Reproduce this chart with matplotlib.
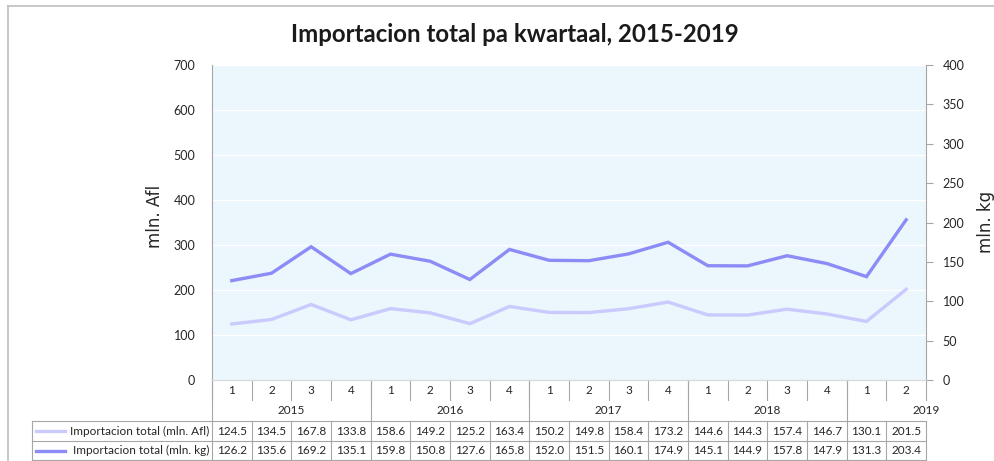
import matplotlib.pyplot as plt
from matplotlib.lines import Line2D
from matplotlib.transforms import blended_transform_factory

plt.rcParams['font.family'] = ['Lato', 'DejaVu Sans']

# DATA
years = ['2015', '2016', '2017', '2018', '2019']
quarters = [1, 2, 3, 4, 1, 2, 3, 4, 1, 2, 3, 4, 1, 2, 3, 4, 1, 2]
afl = [124.5, 134.5, 167.8, 133.8, 158.6, 149.2, 125.2, 163.4, 150.2, 149.8,
       158.4, 173.2, 144.6, 144.3, 157.4, 146.7, 130.1, 201.5]
kg = [126.2, 135.6, 169.2, 135.1, 159.8, 150.8, 127.6, 165.8, 152.0, 151.5,
      160.1, 174.9, 145.1, 144.9, 157.8, 147.9, 131.3, 203.4]
label_afl = 'Importacion total (mln. Afl)'
label_kg = 'Importacion total (mln. kg)'

C_AFL = '#CACAFD'
C_KG = '#8C8CF6'
GRAY = '#A6A6A6'
TXT = '#262626'

W, H = 994, 461
fig = plt.figure(figsize=(W / 100, H / 100), dpi=100)

# outer chart border
fig.add_artist(Line2D([8 / W, 1], [1 - 6 / H, 1 - 6 / H], color='#BFBFBF', lw=1.2))
fig.add_artist(Line2D([8 / W, 8 / W], [0, 1 - 6 / H], color='#BFBFBF', lw=1.2))

# PLOT AREA
x0, x1, y0, y1 = 212, 926, 65, 380
ax = fig.add_axes([x0 / W, (H - y1) / H, (x1 - x0) / W, (y1 - y0) / H])
ax2 = ax.twinx()

xs = list(range(len(afl)))
ax.set_facecolor('#EBF6FD')
ax.plot(xs, afl, color=C_AFL, lw=2.4, solid_joinstyle='miter', zorder=3)
ax2.plot(xs, kg, color=C_KG, lw=2.4, solid_joinstyle='miter', zorder=3)

ax.set_xlim(-0.5, len(afl) - 0.5)
ax.set_ylim(0, 700)
ax.set_yticks(range(0, 701, 100))
ax2.set_ylim(0, 400)
ax2.set_yticks(range(0, 401, 50))
ax.set_xticks([])
ax.yaxis.grid(True, color='white', lw=1.0)
ax.set_axisbelow(True)

for a in (ax, ax2):
    a.spines['top'].set_visible(False)
    a.spines['left'].set_color(GRAY)
    a.spines['right'].set_color(GRAY)
    a.spines['bottom'].set_color('#D9D9D9')
ax.spines['right'].set_visible(False)
ax2.spines['left'].set_visible(False)

ax.tick_params(axis='y', length=0, pad=12, labelsize=9, labelcolor=TXT)
ax2.tick_params(axis='y', length=5, width=0.8, color=GRAY, pad=7, labelsize=9,
                labelcolor=TXT)

ax.set_ylabel('mln. Afl', fontsize=12, color=TXT, family='DejaVu Sans')
ax.yaxis.set_label_coords((164 - x0) / (x1 - x0), (y1 - 216) / (y1 - y0))
ax2.set_ylabel('mln. kg', fontsize=12, color=TXT, family='DejaVu Sans')
ax2.yaxis.set_label_coords((977 - x0) / (x1 - x0), (y1 - 222) / (y1 - y0))

fig.text(515 / W, 1 - 35 / H, 'Importacion total pa kwartaal, 2015-2019',
         ha='center', va='center', fontsize=17.3, fontweight='bold', color='#1a1a1a')

# DATA TABLE
tr = blended_transform_factory(ax.transData, ax.transAxes)


def yax(p):
    return (y1 - p) / (y1 - y0)


def xax(p):
    return (p - x0) / (x1 - x0)


def vline(x, ptop, pbot, transform=tr):
    ax.add_line(Line2D([x, x], [yax(ptop), yax(pbot)], color=GRAY, lw=0.8,
                       transform=transform, clip_on=False))


def hline(xa, xb, p):
    ax.add_line(Line2D([xa, xb], [yax(p), yax(p)], color=GRAY, lw=0.8,
                       transform=ax.transAxes, clip_on=False))


n = len(afl)
# quarter row
for i, q in enumerate(quarters):
    ax.text(i, yax(390), str(q), transform=tr, ha='center', va='center',
            fontsize=8.5, color=TXT)
for i in range(n + 1):
    vline(i - 0.5, y1, 400)

# year row
starts = [i for i, q in enumerate(quarters) if q == 1]
for yr, s in zip(years, starts):
    ax.text(s + 1.5, yax(410.5), yr, transform=tr, ha='center', va='center',
            fontsize=8.5, color=TXT)
    vline(s - 0.5, y1, 421)

# value rows
tab_left = xax(32)
for p in (421, 441, 460):
    hline(tab_left, 1, p)
for i in range(n + 1):
    vline(i - 0.5, 421, 460)
vline(tab_left, 421, 460, transform=ax.transAxes)

for vals, lab, col, pc in ((afl, label_afl, C_AFL, 431), (kg, label_kg, C_KG, 450.5)):
    for i, v in enumerate(vals):
        ax.text(i, yax(pc), f'{v:.1f}', transform=tr, ha='center', va='center',
                fontsize=8.5, color=TXT)
    ax.add_line(Line2D([xax(36), xax(65)], [yax(pc), yax(pc)], color=col, lw=2.4,
                       transform=ax.transAxes, clip_on=False))
    ax.text(xax(209), yax(pc), lab, transform=ax.transAxes, ha='right', va='center',
            fontsize=8.5, color=TXT)

fig.savefig('out.png', dpi=100)
